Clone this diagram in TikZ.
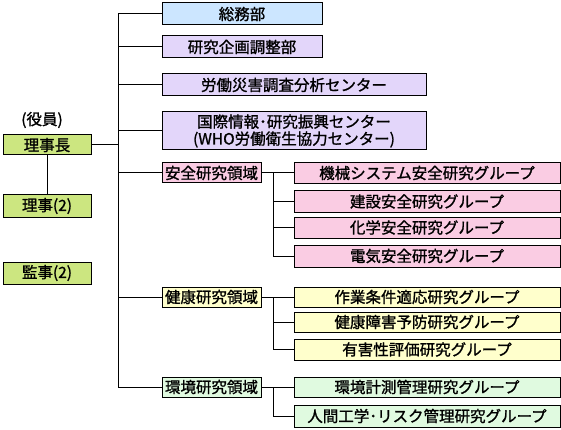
\documentclass[tikz,border=0pt]{standalone}
\usepackage{fontspec}
\newfontfamily\jp[FakeBold=1.2]{Noto Sans CJK JP}
\definecolor{cblue}{HTML}{CCE6FF}
\definecolor{cpurple}{HTML}{E3D6FA}
\definecolor{cyg}{HTML}{CCE680}
\definecolor{cpink}{HTML}{FACCE3}
\definecolor{cyellow}{HTML}{FFFFCC}
\definecolor{cgreen}{HTML}{E0FAE0}
\tikzset{
  txt/.style={font=\jp\fontsize{15.5}{17}\selectfont},
  box/.style={txt, draw=black, line width=1pt, inner sep=0pt, align=center},
  wide/.style={box, minimum width=160pt, minimum height=22pt},
  center/.style={box, minimum width=264pt},
  officer/.style={box, fill=cyg, minimum width=88pt},
  area/.style={box, minimum width=99pt, minimum height=20pt},
  grp/.style={box, minimum width=266pt},
  conn/.style={line width=1pt, black},
}
\begin{document}
\begin{tikzpicture}[x=1pt, y=-1pt]
\useasboundingbox (0,0) rectangle (561,430);
% left column
\node[txt] (yakuin) at (42,120) {(役員)};
\node[officer, minimum height=20pt] (rijicho) at (47,145) {理事長};
\node[officer, minimum height=22pt] (riji) at (47,206) {理事(2)};
\node[officer, minimum height=22pt] (kanji) at (47,273) {監事(2)};
% departments
\node[wide, fill=cblue] (somu) at (242,14) {総務部};
\node[wide, fill=cpurple] (kikaku) at (242,47) {研究企画調整部};
\node[center, fill=cpurple, minimum height=22pt] (rodo) at (294,85) {労働災害調査分析センター};
\node[center, fill=cpurple, minimum height=38pt] (kokusai) at (294,131) {国際情報･研究振興センター\\(WHO労働衛生協力センター)};
% areas
\node[area, fill=cpink] (anzen) at (211.5,173) {安全研究領域};
\node[area, fill=cyellow] (kenko) at (211.5,297) {健康研究領域};
\node[area, fill=cgreen] (kankyo) at (211.5,387) {環境研究領域};
% safety groups
\node[grp, fill=cpink, minimum height=21pt] (a1) at (427,173) {機械システム安全研究グループ};
\node[grp, fill=cpink, minimum height=21pt] (a2) at (427,201.5) {建設安全研究グループ};
\node[grp, fill=cpink, minimum height=21pt] (a3) at (427,227.5) {化学安全研究グループ};
\node[grp, fill=cpink, minimum height=22pt] (a4) at (427,256) {電気安全研究グループ};
% health groups
\node[grp, fill=cyellow, minimum height=20pt] (k1) at (427,297) {作業条件適応研究グループ};
\node[grp, fill=cyellow, minimum height=20pt] (k2) at (427,322) {健康障害予防研究グループ};
\node[grp, fill=cyellow, minimum height=21pt] (k3) at (427,349.5) {有害性評価研究グループ};
% environment groups
\node[grp, fill=cgreen, minimum height=20pt] (e1) at (427,387) {環境計測管理研究グループ};
\node[grp, fill=cgreen, minimum height=22pt] (e2) at (427,416) {人間工学･リスク管理研究グループ};
% trunk
\coordinate (top) at (118,14);
\coordinate (sa) at (273,173);
\coordinate (sk) at (273,297);
\coordinate (se) at (273,387);
\draw[conn] (somu.west) -- (top) |- (kankyo.west);
\draw[conn] (kikaku.west) -- (kikaku.west -| top);
\draw[conn] (rodo.west) -- (rodo.west -| top);
\draw[conn] (kokusai.west) -- (kokusai.west -| top);
\draw[conn] (anzen.west) -- (anzen.west -| top);
\draw[conn] (kenko.west) -- (kenko.west -| top);
\draw[conn] (rijicho.east) -- (rijicho.east -| top);
\draw[conn] (rijicho.south) -- (riji.north);
% safety branch
\draw[conn] (anzen.east) -- (a1.west);
\draw[conn] (a4.west) -| (sa);
\draw[conn] (a2.west) -- (a2.west -| sa);
\draw[conn] (a3.west) -- (a3.west -| sa);
% health branch
\draw[conn] (kenko.east) -- (k1.west);
\draw[conn] (k3.west) -| (sk);
\draw[conn] (k2.west) -- (k2.west -| sk);
% environment branch
\draw[conn] (kankyo.east) -- (e1.west);
\draw[conn] (e2.west) -| (se);
\end{tikzpicture}
\end{document}
